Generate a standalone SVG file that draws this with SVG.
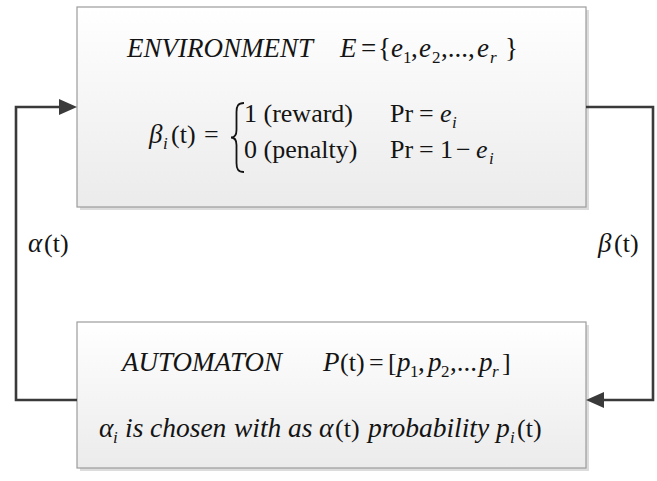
<svg xmlns="http://www.w3.org/2000/svg" width="657" height="481" viewBox="0 0 657 481">
<defs>
<linearGradient id="boxfill" x1="0" y1="0" x2="0" y2="1">
<stop offset="0" stop-color="#ffffff"/>
<stop offset="1" stop-color="#ebebeb"/>
</linearGradient>
<marker id="arrow" markerUnits="userSpaceOnUse" markerWidth="20" markerHeight="18" refX="1" refY="8" orient="auto">
<path d="M0,0 L18,8 L0,16 z" fill="#3a3a3a"/>
</marker>
</defs>
<style>
.box { fill: url(#boxfill); stroke: #9c9c9c; stroke-width: 1.2; }
.shadow { fill: #dcdcdc; }
.conn { fill: none; stroke: #3a3a3a; stroke-width: 2.6; marker-end: url(#arrow); }
.t { font-family: "Liberation Serif", "DejaVu Serif", serif; font-size: 27px; fill: #141414; }
.u { font-size: 26px; }
.i { font-style: italic; }
.s { font-size: 17px; }
.brace { fill: none; stroke: #141414; stroke-width: 1.8; }
</style>
<rect width="657" height="481" fill="#ffffff"/>

<g id="environment">
<rect class="shadow" x="80" y="10" width="509" height="200"/>
<rect class="box" x="77" y="7" width="509" height="200"/>
<text class="t" y="57"><tspan class="i" x="127">ENVIRONMENT</tspan><tspan class="i" x="340">E</tspan><tspan x="361">=</tspan><tspan x="378">{</tspan><tspan class="i" x="391">e</tspan><tspan class="s" x="403" dy="6">1</tspan><tspan x="411" dy="-6">,</tspan><tspan class="i" x="419">e</tspan><tspan class="s" x="432" dy="6">2</tspan><tspan x="441" dy="-6">,...,</tspan><tspan class="i" x="477">e</tspan><tspan class="i s" x="490" dy="6">r</tspan><tspan x="505" dy="-6">}</tspan></text>
<text class="t" y="143"><tspan class="i" x="149">β</tspan><tspan class="i s" x="163" dy="6">i</tspan><tspan class="u" x="171" dy="-6">(t)</tspan><tspan class="u" x="204">=</tspan></text>
<path class="brace" d="M244,103 C238,103 236.5,106 236.5,112 L236.5,130 C236.5,135 235,137.5 231,137.5 C235,137.5 236.5,140 236.5,145 L236.5,163 C236.5,169 238,172 244,172"/>
<text class="t u" y="122"><tspan x="244">1 (reward)</tspan><tspan x="390">Pr</tspan><tspan x="419">=</tspan><tspan class="i" x="440">e</tspan><tspan class="i s" x="452" dy="6">i</tspan></text>
<text class="t u" y="158"><tspan x="244">0 (penalty)</tspan><tspan x="390">Pr</tspan><tspan x="419">=</tspan><tspan x="440">1</tspan><tspan x="456">−</tspan><tspan class="i" x="476">e</tspan><tspan class="i s" x="489" dy="6">i</tspan></text>
</g>

<g id="automaton">
<rect class="shadow" x="80" y="325" width="509" height="146"/>
<rect class="box" x="77" y="322" width="509" height="146"/>
<text class="t" y="371"><tspan class="i" x="122">AUTOMATON</tspan><tspan class="i" x="323">P</tspan><tspan class="u" x="340">(t)</tspan><tspan class="u" x="369">=</tspan><tspan class="u" x="388">[</tspan><tspan class="i" x="397">p</tspan><tspan class="s" x="410" dy="6">1</tspan><tspan x="418" dy="-6">,</tspan><tspan class="i" x="428">p</tspan><tspan class="s" x="441" dy="6">2</tspan><tspan x="450" dy="-6">,...</tspan><tspan class="i" x="479">p</tspan><tspan class="i s" x="492" dy="6">r</tspan><tspan class="u" x="502" dy="-6">]</tspan></text>
<text class="t" style="font-size:27.5px" y="437"><tspan class="i" x="99">α</tspan><tspan class="i s" x="113" dy="6">i</tspan><tspan class="i" x="125" dy="-6">is</tspan><tspan class="i" x="150">chosen</tspan><tspan class="i" x="234">with</tspan><tspan class="i" x="288">as</tspan><tspan class="i" x="319">α</tspan><tspan class="u" x="335">(t)</tspan><tspan class="i" x="368">probability</tspan><tspan class="i" x="496">p</tspan><tspan class="i s" x="510" dy="6">i</tspan><tspan class="u" x="517" dy="-6">(t)</tspan></text>
</g>

<g id="connectors">
<path class="conn" d="M77,400 H16 V107 H60"/>
<path class="conn" d="M586,107 H653 V400 H603"/>
</g>

<g id="labels">
<text class="t" y="252"><tspan class="i" x="28">α</tspan><tspan class="u" x="44">(t)</tspan></text>
<text class="t" y="252"><tspan class="i" x="598">β</tspan><tspan class="u" x="614">(t)</tspan></text>
</g>
</svg>
